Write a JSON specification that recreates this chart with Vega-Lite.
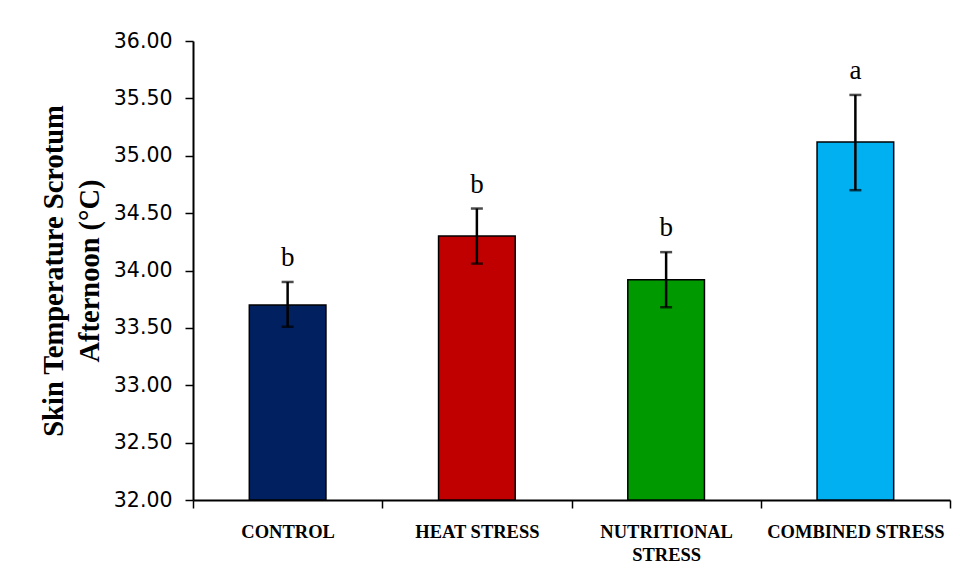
{
  "$schema": "https://vega.github.io/schema/vega-lite/v6.json",
  "autosize": "none",
  "width": 757,
  "height": 459,
  "padding": {"left": 193, "top": 41, "right": 10, "bottom": 80},
  "background": "white",
  "config": {"view": {"stroke": null}},
  "data": {
    "values": [
      {"group": "CONTROL", "mean": 33.70, "lower": 33.51, "upper": 33.90, "letter": "b", "color": "#002060"},
      {"group": "HEAT STRESS", "mean": 34.30, "lower": 34.06, "upper": 34.54, "letter": "b", "color": "#C00000"},
      {"group": "NUTRITIONAL STRESS", "mean": 33.92, "lower": 33.68, "upper": 34.16, "letter": "b", "color": "#009900"},
      {"group": "COMBINED STRESS", "mean": 35.12, "lower": 34.70, "upper": 35.53, "letter": "a", "color": "#00B0F0"}
    ]
  },
  "encoding": {
    "x": {
      "field": "group",
      "type": "nominal",
      "sort": null,
      "scale": {"paddingInner": 0, "paddingOuter": 0},
      "axis": {
        "title": null,
        "labelAngle": 0,
        "tickBand": "extent",
        "domainColor": "black",
        "domainWidth": 2,
        "tickColor": "black",
        "tickWidth": 1.5,
        "tickSize": 8,
        "labelFont": "Liberation Serif",
        "labelFontWeight": "bold",
        "labelFontSize": 18.5,
        "labelColor": "black",
        "labelPadding": 14,
        "labelLineHeight": 23,
        "labelBaseline": "top",
        "labelExpr": "datum.label == 'NUTRITIONAL STRESS' ? ['NUTRITIONAL', 'STRESS'] : datum.label"
      }
    },
    "y": {
      "field": "mean",
      "type": "quantitative",
      "scale": {"domain": [32, 36], "zero": false, "nice": false},
      "axis": {
        "values": [32, 32.5, 33, 33.5, 34, 34.5, 35, 35.5, 36],
        "format": ".2f",
        "grid": false,
        "domainColor": "black",
        "domainWidth": 2,
        "tickColor": "black",
        "tickWidth": 1.5,
        "tickSize": 8,
        "labelFont": "DejaVu Sans",
        "labelFontSize": 20.5,
        "labelColor": "black",
        "labelPadding": 13,
        "title": ["Skin Temperature Scrotum", "Afternoon (°C)"],
        "titleFont": "Liberation Serif",
        "titleFontWeight": "bold",
        "titleFontSize": 28.5,
        "titleColor": "black",
        "titleLineHeight": 36,
        "titlePadding": 9
      }
    }
  },
  "layer": [
    {
      "mark": {"type": "bar", "width": {"band": 0.405}, "stroke": "black", "strokeWidth": 1.5},
      "encoding": {
        "y2": {"datum": 32},
        "fill": {"field": "color", "type": "nominal", "scale": null, "legend": null}
      }
    },
    {
      "mark": {"type": "errorbar", "ticks": {"size": 12, "thickness": 2.5, "color": "black"}, "thickness": 2.5, "color": "black"},
      "encoding": {
        "y": {"field": "lower", "type": "quantitative"},
        "y2": {"field": "upper"}
      }
    },
    {
      "mark": {"type": "text", "font": "Liberation Serif", "fontSize": 27, "color": "black", "baseline": "alphabetic", "dy": -16},
      "encoding": {
        "y": {"field": "upper", "type": "quantitative"},
        "text": {"field": "letter"}
      }
    }
  ]
}
